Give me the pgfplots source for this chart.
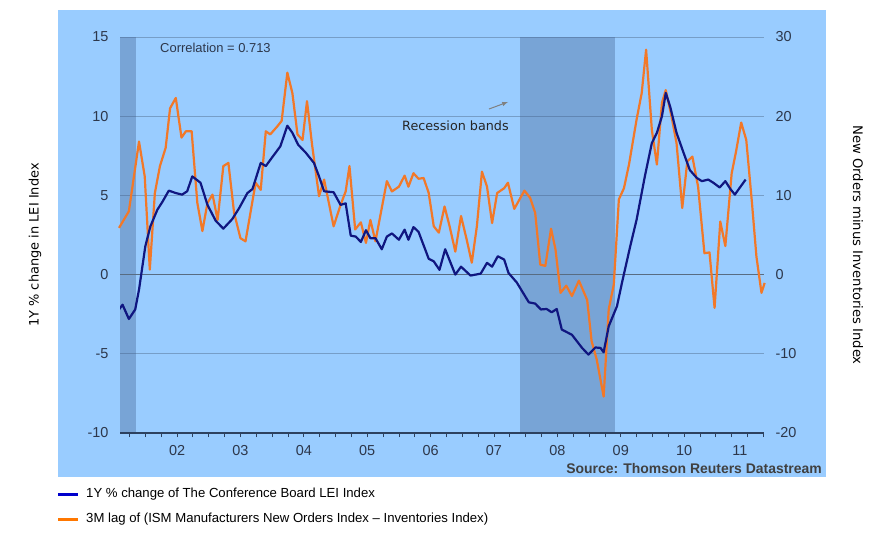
\documentclass[border=0pt]{standalone}
\usepackage{fontspec}
\setmainfont{Liberation Sans}
\newfontfamily\dvs{DejaVu Sans}
\usepackage{pgfplots}
\pgfplotsset{compat=1.18}
\definecolor{bgblue}{RGB}{153,204,255}
\definecolor{bandc}{RGB}{60,90,140}
\definecolor{navyl}{RGB}{16,22,128}
\definecolor{orl}{RGB}{242,120,40}
\definecolor{gridc}{RGB}{118,158,200}
\definecolor{zeroc}{RGB}{88,108,130}
\definecolor{axc}{RGB}{45,65,95}
\definecolor{labc}{RGB}{45,55,75}
\definecolor{legblue}{RGB}{0,0,204}
\definecolor{legor}{RGB}{255,119,0}

\pgfplotstableread{
t v
2001.585 -2.2
2001.64 -1.9
2001.74 -2.8
2001.84 -2.2
2001.90 -0.95
2002.00 1.8
2002.08 3.05
2002.19 4.1
2002.27 4.6
2002.37 5.3
2002.48 5.15
2002.58 5.05
2002.66 5.26
2002.74 6.2
2002.87 5.8
2002.98 4.4
2003.11 3.4
2003.23 2.9
2003.37 3.5
2003.48 4.2
2003.61 5.15
2003.69 5.4
2003.82 7.05
2003.90 6.85
2004.00 7.4
2004.13 8.1
2004.24 9.4
2004.32 8.95
2004.41 8.2
2004.53 7.7
2004.66 7.05
2004.74 6.2
2004.82 5.26
2004.97 5.2
2005.08 4.4
2005.16 4.5
2005.24 2.46
2005.32 2.4
2005.40 2.06
2005.48 2.8
2005.55 2.3
2005.63 2.3
2005.73 1.6
2005.81 2.4
2005.89 2.6
2006.00 2.2
2006.09 2.84
2006.15 2.2
2006.23 3.0
2006.31 2.7
2006.47 1.0
2006.55 0.84
2006.64 0.3
2006.73 1.6
2006.89 0.0
2006.98 0.5
2007.13 -0.06
2007.29 0.06
2007.39 0.74
2007.47 0.5
2007.56 1.16
2007.66 0.95
2007.73 0.1
2007.86 -0.5
2008.05 -1.75
2008.15 -1.83
2008.24 -2.2
2008.33 -2.17
2008.41 -2.38
2008.49 -2.17
2008.57 -3.47
2008.73 -3.8
2008.89 -4.63
2008.99 -5.05
2009.10 -4.6
2009.18 -4.63
2009.23 -4.9
2009.31 -3.26
2009.44 -2.0
2009.52 -0.5
2009.65 1.8
2009.75 3.47
2009.88 6.2
2009.99 8.3
2010.07 8.95
2010.15 10.0
2010.21 11.47
2010.28 10.6
2010.38 8.95
2010.49 7.7
2010.59 6.6
2010.70 6.1
2010.78 5.9
2010.88 6.0
2010.96 5.8
2011.06 5.5
2011.15 5.9
2011.23 5.4
2011.30 5.05
2011.38 5.5
2011.47 6.0
}\lei

\pgfplotstableread{
t v
2001.585 5.9
2001.74 8.0
2001.90 16.8
2001.99 12.4
2002.07 0.63
2002.15 10.3
2002.23 13.7
2002.32 16.0
2002.39 21.0
2002.48 22.3
2002.57 17.3
2002.64 18.1
2002.73 18.1
2002.82 9.05
2002.90 5.5
2002.98 9.05
2003.06 10.1
2003.14 6.9
2003.23 13.7
2003.31 14.1
2003.40 7.8
2003.50 4.6
2003.58 4.2
2003.74 11.6
2003.82 10.7
2003.90 18.1
2003.97 17.7
2004.08 18.7
2004.15 19.4
2004.24 25.5
2004.32 22.9
2004.40 17.7
2004.48 17.0
2004.55 21.9
2004.63 16.4
2004.74 9.9
2004.82 12.0
2004.97 6.1
2005.08 8.8
2005.16 10.5
2005.22 13.7
2005.31 5.7
2005.40 6.6
2005.48 4.0
2005.55 6.9
2005.63 4.2
2005.81 11.8
2005.89 10.5
2006.00 11.1
2006.09 12.5
2006.15 11.1
2006.23 12.8
2006.31 12.1
2006.39 12.2
2006.47 10.3
2006.55 6.1
2006.63 5.3
2006.72 8.6
2006.80 6.1
2006.89 2.9
2006.98 7.4
2007.07 4.4
2007.15 1.5
2007.23 6.1
2007.31 13.0
2007.39 11.1
2007.47 6.5
2007.55 10.3
2007.66 10.9
2007.72 11.6
2007.82 8.3
2007.98 10.6
2008.07 9.7
2008.15 7.8
2008.23 1.26
2008.31 1.1
2008.40 5.8
2008.47 3.2
2008.55 -2.3
2008.64 -1.4
2008.73 -2.7
2008.84 -0.76
2008.97 -3.2
2009.04 -8.4
2009.12 -10.7
2009.23 -15.4
2009.31 -4.4
2009.39 -1.26
2009.47 9.5
2009.55 10.9
2009.63 13.9
2009.75 19.6
2009.83 22.9
2009.90 28.4
2009.99 18.3
2010.07 13.9
2010.15 21.7
2010.21 23.3
2010.30 20.0
2010.38 16.6
2010.47 8.4
2010.55 14.3
2010.63 14.9
2010.72 11.1
2010.82 2.7
2010.90 2.8
2010.98 -4.2
2011.07 6.7
2011.15 3.6
2011.25 12.8
2011.32 15.6
2011.40 19.2
2011.48 17.0
2011.57 9.05
2011.64 2.3
2011.72 -2.3
2011.77 -1.05
}\ism

\begin{document}
\begin{tikzpicture}[x=1bp,y=1bp]
\useasboundingbox (0,0) rectangle (883,-539);
\fill[bgblue] (58,-10) rectangle (826,-477);
% right axis (orange), with bands, grid, x ticks
\begin{axis}[at={(120bp,-433bp)}, anchor=south west, scale only axis,
  width=644bp, height=396bp,
  xmin=2001.6, xmax=2011.76, ymin=-20, ymax=30,
  axis line style={draw=none},
  ytick={-20,-10,0,10,20,30},
  yticklabel pos=right,
  ymajorgrids, grid style={gridc, line width=0.8bp},
  major tick length=0pt,
  xtick pos=bottom,
  xtick={2002.5,2003.5,2004.5,2005.5,2006.5,2007.5,2008.5,2009.5,2010.5,2011.38},
  xticklabels={02,03,04,05,06,07,08,09,10,11},
  minor xtick={2001.75,2002,...,2011.75},
  minor tick length=4bp, tick align=outside,
  minor tick style={axc, line width=0.8bp},
  /pgf/number format/assume math mode=true,
  ticklabel style={font=\fontsize{14.5}{15}\selectfont, text=labc},
  yticklabel style={xshift=8bp},
  xticklabel style={yshift=-9bp},
  clip=false,
]
\addplot[draw=none, fill=bandc, fill opacity=0.35] coordinates {(2001.6,-20) (2001.845,-20) (2001.845,30) (2001.6,30)} -- cycle;
\addplot[draw=none, fill=bandc, fill opacity=0.35] coordinates {(2007.915,-20) (2009.415,-20) (2009.415,30) (2007.915,30)} -- cycle;
\draw[zeroc, line width=1.2bp] (axis cs:2001.6,0) -- (axis cs:2011.76,0);
\draw[axc, line width=1.4bp] (axis cs:2001.6,-20) -- (axis cs:2011.76,-20);
\addplot[orl, line width=2.2bp, line join=round] table[x=t,y=v] {\ism};
\end{axis}
% left axis (blue)
\begin{axis}[at={(120bp,-433bp)}, anchor=south west, scale only axis,
  width=644bp, height=396bp,
  xmin=2001.6, xmax=2011.76, ymin=-10, ymax=15,
  axis line style={draw=none},
  ytick={-10,-5,0,5,10,15},
  xtick=\empty,
  major tick length=0pt,
  /pgf/number format/assume math mode=true,
  ticklabel style={font=\fontsize{14.5}{15}\selectfont, text=labc},
  yticklabel style={xshift=-8bp},
]
\addplot[navyl, line width=2.2bp, line join=round] table[x=t,y=v] {\lei};
\end{axis}
% annotations
\node[anchor=west, inner sep=0, text=labc, font=\fontsize{13}{14}\selectfont] at (160,-48) {Correlation = 0.713};
\node[anchor=west, inner sep=0, text=black!85, font=\dvs\fontsize{12.8}{14}\selectfont] at (402,-126) {Recession bands};
\draw[gray, line width=1bp, -{latex}] (489,-109) -- (508,-102);
\node[anchor=east, inner sep=0, text=black!75, font=\bfseries\fontsize{14}{15}\selectfont] at (822,-469) {Source: Thomson Reuters Datastream};
\node[rotate=90, inner sep=0, font=\dvs\fontsize{13}{14}\selectfont] at (35,-245) {1Y \% change in LEI Index};
\node[rotate=-90, inner sep=0, font=\dvs\fontsize{13.2}{14}\selectfont] at (858,-245) {New Orders minus Inventories Index};
% legend
\draw[legblue, line width=3bp] (58,-494) -- (78,-494);
\draw[legor, line width=3bp] (58,-519) -- (78,-519);
\node[anchor=west, inner sep=0, font=\fontsize{13.2}{14}\selectfont] at (86,-494) {1Y \% change of The Conference Board LEI Index};
\node[anchor=west, inner sep=0, font=\fontsize{13.2}{14}\selectfont] at (86,-519) {3M lag of (ISM Manufacturers New Orders Index -- Inventories Index)};
\end{tikzpicture}
\end{document}
